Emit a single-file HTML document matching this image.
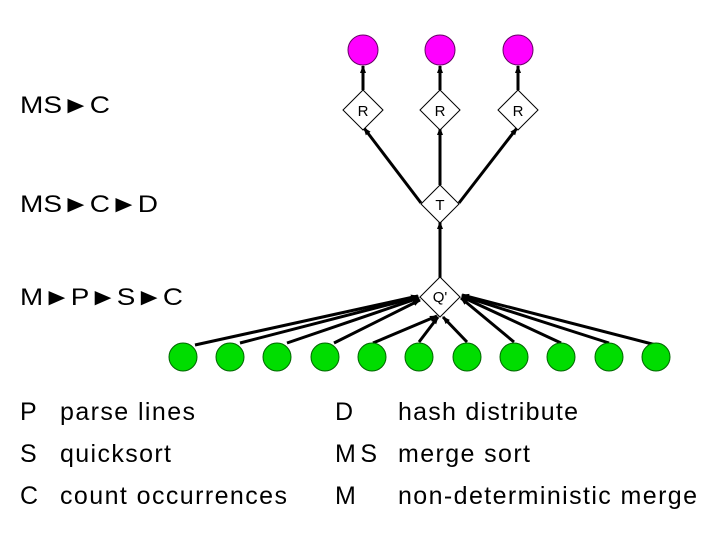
<!DOCTYPE html>
<html><head><style>
body{margin:0;background:#fff}
svg text{font-family:"Liberation Sans",Arial,sans-serif;fill:#000}
</style></head><body>
<svg width="720" height="540" viewBox="0 0 720 540" xmlns="http://www.w3.org/2000/svg">
<defs><marker id="a" markerWidth="8" markerHeight="8" refX="7" refY="4" orient="auto" markerUnits="userSpaceOnUse"><path d="M0,1 L8,4 L0,7 z" fill="#000"/></marker></defs>
<rect width="720" height="540" fill="#fff"/>
<g font-size="24">
<text x="20" y="113" textLength="90" lengthAdjust="spacingAndGlyphs">MS►C</text>
<text x="20" y="212" textLength="138" lengthAdjust="spacingAndGlyphs">MS►C►D</text>
<text x="20" y="305" textLength="163" lengthAdjust="spacingAndGlyphs">M►P►S►C</text>
</g>
<g font-size="25">
<text x="20" y="420">P</text><text x="60" y="420" textLength="135">parse lines</text>
<text x="20" y="462">S</text><text x="60" y="462" textLength="111">quicksort</text>
<text x="20" y="504">C</text><text x="60" y="504" textLength="227">count occurrences</text>
<text x="335" y="420">D</text><text x="398" y="420" textLength="180">hash distribute</text>
<text x="335" y="462" textLength="42">MS</text><text x="398" y="462" textLength="132">merge sort</text>
<text x="335" y="504">M</text><text x="398" y="504" textLength="299">non-deterministic merge</text>
</g>
<g stroke="#000" stroke-width="3" fill="none" marker-end="url(#a)">
<line x1="363" y1="90" x2="363" y2="66"/>
<line x1="440" y1="90" x2="440" y2="66"/>
<line x1="518" y1="90" x2="518" y2="66"/>
<line x1="421" y1="203" x2="364" y2="128"/>
<line x1="440" y1="185" x2="440" y2="128"/>
<line x1="459" y1="203" x2="517" y2="128"/>
<line x1="440" y1="278" x2="440" y2="222"/>
<line x1="195" y1="345" x2="418" y2="296"/>
<line x1="240" y1="343" x2="418" y2="297"/>
<line x1="287" y1="343" x2="419" y2="298"/>
<line x1="334" y1="343" x2="420" y2="300"/>
<line x1="373" y1="343" x2="437" y2="316"/>
<line x1="419" y1="342" x2="438" y2="317"/>
<line x1="467" y1="342" x2="443" y2="317"/>
<line x1="514" y1="342" x2="461" y2="298"/>
<line x1="561" y1="343" x2="462" y2="297"/>
<line x1="609" y1="343" x2="462" y2="296"/>
<line x1="656" y1="345" x2="462" y2="295"/>
</g>
<g fill="#f0f" stroke="#606" stroke-width="1">
<circle cx="363" cy="50" r="15"/><circle cx="440" cy="50" r="15"/><circle cx="518" cy="50" r="15"/>
</g>
<g fill="#fff" stroke="#000" stroke-width="1">
<polygon points="363,90 383,110 363,130 343,110"/>
<polygon points="440,90 460,110 440,130 420,110"/>
<polygon points="518,90 538,110 518,130 498,110"/>
<polygon points="440,185 459,204 440,223 421,204"/>
<polygon points="440,277 460,297 440,317 420,297"/>
</g>
<g font-size="15" text-anchor="middle">
<text x="363" y="116">R</text><text x="440" y="116">R</text><text x="518" y="116">R</text>
<text x="440" y="210">T</text><text x="440" y="302">Q'</text>
</g>
<g fill="#0d0" stroke="#060" stroke-width="1">
<circle cx="183" cy="357" r="14"/><circle cx="230" cy="357" r="14"/><circle cx="277" cy="357" r="14"/>
<circle cx="325" cy="357" r="14"/><circle cx="372" cy="357" r="14"/><circle cx="419" cy="357" r="14"/>
<circle cx="467" cy="357" r="14"/><circle cx="514" cy="357" r="14"/><circle cx="561" cy="357" r="14"/>
<circle cx="609" cy="357" r="14"/><circle cx="656" cy="357" r="14"/>
</g>
</svg>
</body></html>
